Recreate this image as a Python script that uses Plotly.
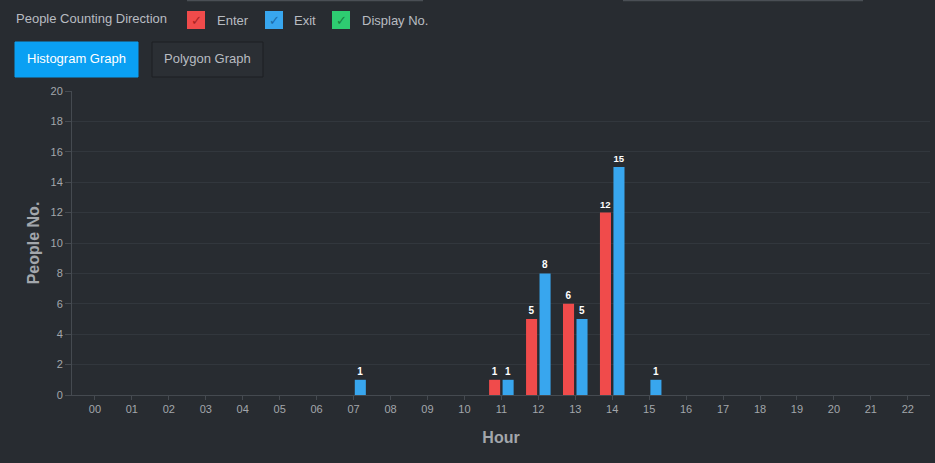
import plotly.graph_objects as go

hours = [f"{h:02d}" for h in range(23)]
enter = [0,0,0,0,0,0,0,0,0,0,0,1,5,6,12,0,0,0,0,0,0,0,0]
exit_ = [0,0,0,0,0,0,0,1,0,0,0,1,8,5,15,1,0,0,0,0,0,0,0]
y_ticks = list(range(0, 21, 2))

W, H = 935, 463
L, R, T, B = 72, 5, 91, 68
PW, PH = W - L - R, H - T - B

def px(x):
    return (x - L) / PW

def py(y):
    return (H - B - y) / PH

BG = "#282c31"
RED = "#f04b4b"
BLUE = "#38a6ee"
GREEN = "#2ecc71"
FONT = "Liberation Sans, Arial, sans-serif"

def labels(vals):
    return [f"<b>{v}</b>" if v else "" for v in vals]

fig = go.Figure()
fig.add_trace(go.Bar(x=hours, y=enter, name="Enter", marker_color=RED,
                     marker_line_width=0,
                     text=labels(enter), textposition="outside",
                     textfont=dict(color="white", size=10, family=FONT),
                     cliponaxis=False))
fig.add_trace(go.Bar(x=hours, y=exit_, name="Exit", marker_color=BLUE,
                     marker_line_width=0,
                     text=labels(exit_), textposition="outside",
                     textfont=dict(color="white", size=10, family=FONT),
                     cliponaxis=False))

shapes = []
annotations = []

# faint top lines
for x0, x1 in [(187, 423), (623, 863)]:
    shapes.append(dict(type="line", xref="paper", yref="paper",
                       x0=px(x0), x1=px(x1), y0=py(0.5), y1=py(0.5),
                       line=dict(color="#4a4f55", width=1.5)))

# legend-like checkboxes
for x0, col, dark, label, tx in [(187, RED, "#a82222", "Enter", 215),
                                 (265, BLUE, "#1a6aa8", "Exit", 292),
                                 (332, GREEN, "#17803f", "Display No.", 360)]:
    shapes.append(dict(type="rect", xref="paper", yref="paper",
                       x0=px(x0), x1=px(x0 + 18), y0=py(11), y1=py(29),
                       fillcolor=col, line=dict(color=col, width=0)))
    annotations.append(dict(xref="paper", yref="paper", x=px(x0 + 9), y=py(20),
                            text="✓", showarrow=False, xanchor="center", yanchor="middle",
                            font=dict(color=dark, size=13, family="DejaVu Sans")))
    annotations.append(dict(xref="paper", yref="paper", x=px(tx), y=py(21),
                            text=label, showarrow=False, xanchor="left", yanchor="middle",
                            font=dict(color="#b8bcc1", size=13, family=FONT)))

annotations.append(dict(xref="paper", yref="paper", x=px(14), y=py(19),
                        text="People Counting Direction", showarrow=False,
                        xanchor="left", yanchor="middle",
                        font=dict(color="#b8bcc1", size=13, family=FONT)))

# buttons
shapes.append(dict(type="rect", xref="paper", yref="paper",
                   x0=px(15), x1=px(138), y0=py(42), y1=py(77),
                   fillcolor="#0aa0f3", line=dict(color="#0aa0f3", width=1)))
annotations.append(dict(xref="paper", yref="paper", x=px(76.5), y=py(59),
                        text="Histogram Graph", showarrow=False,
                        xanchor="center", yanchor="middle",
                        font=dict(color="white", size=13, family=FONT)))
shapes.append(dict(type="rect", xref="paper", yref="paper",
                   x0=px(152), x1=px(263), y0=py(42), y1=py(77),
                   fillcolor="#2b2f34", line=dict(color="#1c1f23", width=1)))
annotations.append(dict(xref="paper", yref="paper", x=px(207.5), y=py(59),
                        text="Polygon Graph", showarrow=False,
                        xanchor="center", yanchor="middle",
                        font=dict(color="#b8bcc1", size=13, family=FONT)))

fig.update_layout(
    width=W, height=H,
    margin=dict(l=L, r=R, t=T, b=B, pad=0),
    paper_bgcolor=BG, plot_bgcolor=BG,
    showlegend=False,
    barmode="group", bargap=0.27, bargroupgap=0.18,
    font=dict(family=FONT, color="#a3a7ac"),
    shapes=shapes, annotations=annotations,
    xaxis=dict(type="category", categoryorder="array", categoryarray=hours,
               range=[-0.62, 22.6], showgrid=False, zeroline=False,
               showline=True, linecolor="#454a50", linewidth=1,
               ticks="outside", ticklen=4, tickcolor="#454a50",
               tickfont=dict(size=11, color="#a3a7ac", family=FONT),
               title=dict(text="<b>Hour</b>", standoff=17,
                          font=dict(size=16, color="#a3a7ac", family=FONT))),
    yaxis=dict(range=[0, 20], tickvals=y_ticks, showgrid=True,
               gridcolor="#32373d", gridwidth=1, zeroline=False,
               showline=True, linecolor="#454a50", linewidth=1,
               ticks="outside", ticklen=6, tickcolor="#454a50",
               tickfont=dict(size=11, color="#a3a7ac", family=FONT),
               title=dict(text="<b>People No.</b>", standoff=6,
                          font=dict(size=16, color="#a3a7ac", family=FONT))),
)

fig.write_html("out.html")
